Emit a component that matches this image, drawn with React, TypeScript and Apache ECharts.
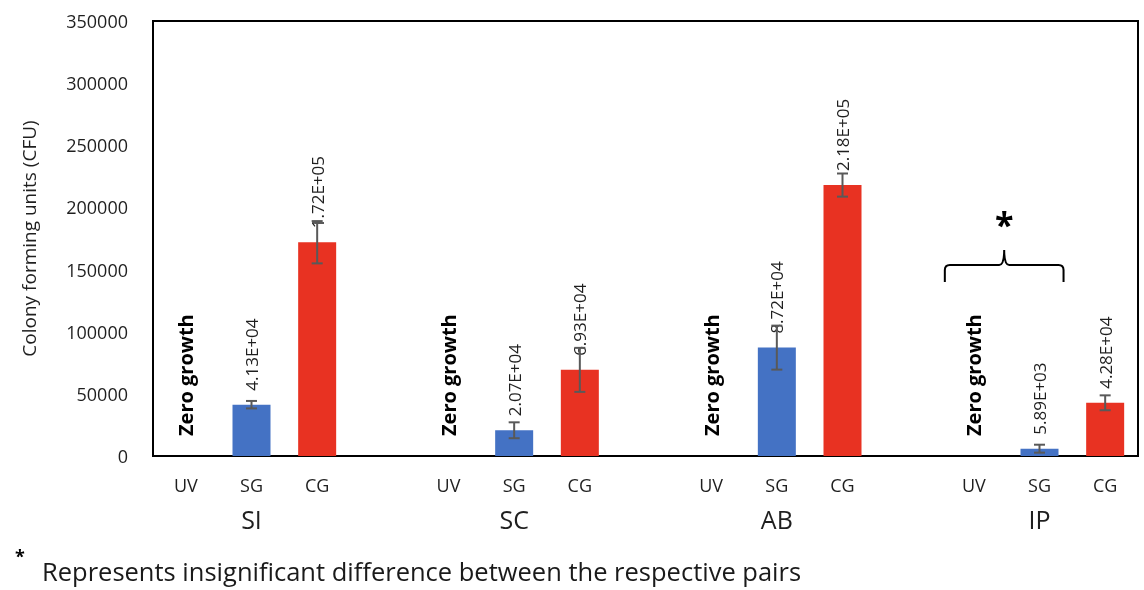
import React, { useEffect, useRef } from 'react';
import * as echarts from 'echarts';

const groups = ['SI', 'SC', 'AB', 'IP'];
const treatments = ['UV', 'SG', 'CG'];
const uvValues = [0, 0, 0, 0];
const sgValues = [41300, 20700, 87200, 5890];
const cgValues = [172000, 69300, 218000, 42800];
const sgErrors = [3000, 6400, 17700, 3200];
const cgErrors = [17000, 17700, 9300, 6000];
const yMin = 0;
const yMax = 350000;
const yInterval = 50000;
const yTitle = 'Colony forming units (CFU)';
const zeroLabel = 'Zero growth';
const footnoteMark = '*';
const footnote = 'Represents insignificant difference between the respective pairs';
const insignificantGroup = 'IP';
const insignificantPair = ['UV', 'SG'];

const SG_COLOR = '#4472C4';
const CG_COLOR = '#E83222';
const ERR_COLOR = '#595959';
const FONT = '"Open Sans", sans-serif';
const TXT = '#1f1f1f';

const BRACE_D = 'M0,32 L0,20 Q0,15 5,15 L54,15 Q59,15 59,0 Q59,15 64,15 L113,15 Q118,15 118,20 L118,32';
echarts.graphic.registerShape('brace', echarts.graphic.extendPath(BRACE_D, {}));

function sci(v: number): string {
  const e = Math.floor(Math.log10(v));
  const m = v / Math.pow(10, e);
  return m.toFixed(2) + 'E' + (e >= 0 ? '+' : '-') + String(Math.abs(e)).padStart(2, '0');
}

export default function App() {
  const ref = useRef<HTMLDivElement>(null);
  useEffect(() => {
    if (!ref.current) return;
    const chart = echarts.init(ref.current, null, { renderer: 'svg' });

    const cats: string[] = [];
    const groupCats: string[] = [];
    const barData: any[] = [];
    const errData: any[] = [];
    groups.forEach((g, gi) => {
      const vals = [uvValues[gi], sgValues[gi], cgValues[gi]];
      const errs = [0, sgErrors[gi], cgErrors[gi]];
      treatments.forEach((t, ti) => {
        const idx = cats.length;
        cats.push(t);
        groupCats.push(t === 'SG' ? g : '');
        const v = vals[ti];
        if (v === 0) {
          barData.push({
            value: 0,
            label: {
              show: true,
              formatter: zeroLabel,
              fontWeight: 'bold',
              fontSize: 20,
              distance: 26,
              offset: [-6, 0],
              color: '#000',
            },
          });
        } else {
          barData.push({
            value: v,
            itemStyle: { color: t === 'SG' ? SG_COLOR : CG_COLOR },
          });
          errData.push([idx, v, errs[ti]]);
        }
      });
      if (gi < groups.length - 1) {
        cats.push('');
        groupCats.push('');
        barData.push(null);
      }
    });

    chart.setOption({
      animation: false,
      grid: {
        left: 153,
        right: 6,
        top: 21,
        bottom: 134,
        show: true,
        borderColor: '#000',
        borderWidth: 2,
        backgroundColor: 'transparent',
      },
      xAxis: [
        {
          type: 'category',
          data: cats,
          axisLine: { lineStyle: { color: '#000', width: 2 } },
          axisTick: { alignWithLabel: true, inside: true, length: 5, lineStyle: { color: '#000', width: 1.5 } },
          axisLabel: { interval: 0, margin: 20, fontFamily: FONT, fontSize: 18, color: TXT },
        },
        {
          type: 'category',
          data: groupCats,
          position: 'bottom',
          offset: 44,
          axisLine: { show: false },
          axisTick: { show: false },
          axisLabel: { interval: 0, margin: 6, fontFamily: FONT, fontSize: 25, color: TXT },
        },
      ],
      yAxis: {
        type: 'value',
        min: yMin,
        max: yMax,
        interval: yInterval,
        splitLine: { show: false },
        axisLine: { show: false },
        axisTick: { show: false },
        axisLabel: { margin: 25, fontFamily: FONT, fontSize: 18, color: TXT, formatter: (v: number) => String(v) },
        name: yTitle,
        nameLocation: 'middle',
        nameGap: 115,
        nameRotate: 90,
        nameTextStyle: { fontFamily: FONT, fontSize: 19, color: TXT },
      },
      series: [
        {
          type: 'bar',
          data: barData,
          barWidth: 38,
          label: {
            show: true,
            position: 'top',
            distance: 14,
            rotate: 90,
            align: 'left',
            verticalAlign: 'middle',
            fontFamily: FONT,
            fontSize: 17,
            color: TXT,
            formatter: (p: any) => (p.value ? sci(p.value) : zeroLabel),
          },
        },
        {
          type: 'custom',
          data: errData,
          encode: { x: 0, y: 1 },
          z: 3,
          renderItem: (params: any, api: any) => {
            const x = api.value(0);
            const v = api.value(1);
            const e = api.value(2);
            const hi = api.coord([x, v + e]);
            const lo = api.coord([x, Math.max(v - e, 0)]);
            const hw = 5.5;
            const style = { stroke: ERR_COLOR, lineWidth: 2 };
            return {
              type: 'group',
              children: [
                { type: 'line', shape: { x1: hi[0], y1: hi[1], x2: lo[0], y2: lo[1] }, style },
                { type: 'line', shape: { x1: hi[0] - hw, y1: hi[1], x2: hi[0] + hw, y2: hi[1] }, style },
                { type: 'line', shape: { x1: lo[0] - hw, y1: lo[1], x2: lo[0] + hw, y2: lo[1] }, style },
              ],
            };
          },
        },
      ],
    });

    const gi = groups.indexOf(insignificantGroup);
    const startIdx = gi * 4;
    const xa = chart.convertToPixel({ xAxisIndex: 0 }, startIdx + treatments.indexOf(insignificantPair[0])) as number;
    const xb = chart.convertToPixel({ xAxisIndex: 0 }, startIdx + treatments.indexOf(insignificantPair[1])) as number;
    const left = xa - 29;
    const right = xb + 24;
    const mid = (left + right) / 2;

    chart.setOption({
      graphic: [
        {
          type: 'brace',
          x: left,
          y: 250,
          scaleX: (right - left) / 118,
          scaleY: 1,
          style: { stroke: '#000', fill: 'none', lineWidth: 2 },
        },
        {
          type: 'text',
          x: mid,
          y: 224,
          style: { text: '*', font: 'bold 34px "Open Sans", sans-serif', fill: '#000', align: 'center', verticalAlign: 'middle' },
        },
        {
          type: 'text',
          x: 20,
          y: 556,
          style: { text: footnoteMark, font: 'bold 18px "Open Sans", sans-serif', fill: '#000', align: 'center', verticalAlign: 'middle' },
        },
        {
          type: 'text',
          x: 42,
          y: 571,
          style: { text: footnote, font: '25.5px "Open Sans", sans-serif', fill: '#1a1a1a', align: 'left', verticalAlign: 'middle' },
        },
      ],
    });

    return () => chart.dispose();
  }, []);

  return <div ref={ref} style={{ position: 'fixed', left: 0, top: 0, width: 1144, height: 590 }} />;
}
